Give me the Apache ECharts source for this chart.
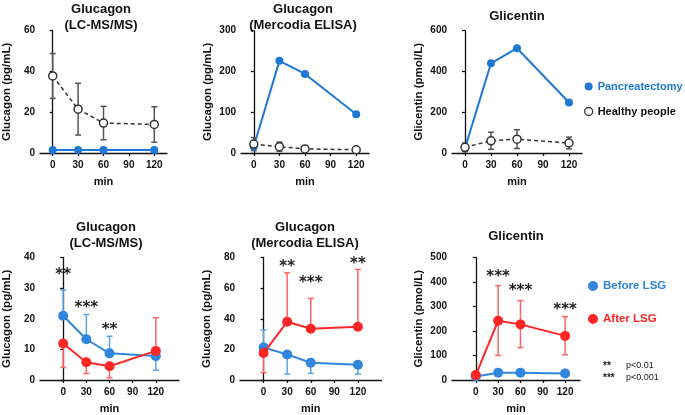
<!DOCTYPE html>
<html><head><meta charset="utf-8">
<script src="https://cdn.jsdelivr.net/npm/echarts@6/dist/echarts.min.js"></script>
<style>html,body{margin:0;padding:0;background:#fff}#c{width:685px;height:415px}</style>
</head><body><div id="c"></div>
<script>
// ---------- data ----------
const minuteTicks = [0, 30, 60, 90, 120];
const timePoints = [0, 30, 60, 120];

// top row: pancreatectomy vs healthy people (mean, SD)
const lcPanc = [1.5, 1.5, 1.5, 1.5];
const lcHealthy = [37.8, 21.5, 14.7, 14.0];
const lcHealthySD = [11, 12.7, 8.2, 8.7];
const elisaPanc = [16, 226, 194, 95];
const elisaHealthy = [22, 15.5, 10, 8];
const elisaHealthySD = [16, 11.5, 4, 3];
const glicPanc = [24, 440, 514, 248];
const glicHealthy = [28, 60, 68, 49];
const glicHealthySD = [21, 42, 46, 29];

// bottom row: before vs after LSG (mean, one-sided error bars)
const lcBefore = [21, 13.3, 8.7, 7.8];
const lcBeforeUp = [8.4, 8.1, 5.6, 0];
const lcBeforeDown = [0, 0, 0, 4.6];
const lcAfter = [11.9, 5.8, 4.5, 9.5];
const lcAfterUp = [0, 0, 0, 10.8];
const lcAfterDown = [7.8, 3.7, 3.8, 0];

const elBefore = [21.3, 16.7, 11.3, 10];
const elBeforeUp = [11.3, 0, 0, 0];
const elBeforeDown = [0, 12.8, 7, 6.1];
const elAfter = [17.6, 38, 33.5, 34.8];
const elAfterUp = [0, 32, 19.8, 37.4];
const elAfterDown = [12.8, 0, 0, 0];

const glBefore = [14, 30, 30, 27];
const glBeforeUp = [0, 0, 0, 0];
const glBeforeDown = [0, 0, 0, 0];
const glAfter = [20, 242, 227, 180];
const glAfterUp = [0, 143, 97, 79];
const glAfterDown = [0, 142, 95, 77];

// significance marks
const lcSigX = [0, 30, 60], lcSigY = [34.2, 23.5, 16.3], lcSigText = ['**', '***', '**'];
const elSigX = [30, 60, 120], elSigY = [73.5, 63.5, 76], elSigText = ['**', '***', '**'];
const glSigX = [30, 60, 120], glSigY = [421, 364, 286], glSigText = ['***', '***', '***'];

// ---------- styling ----------
const BLUE = '#1f78d4', BLUE2 = '#2f86dc', BLUE_ERR = '#5aa5e8';
const RED = '#ff2626', RED_ERR = '#ff6464';
const DARK = '#333333', AX = '#111111';
const FONT = 'Liberation Sans, Arial, sans-serif';

const grids = [
  {left: 39, top: 30.7, width: 128, height: 122.3},
  {left: 241, top: 30.7, width: 128, height: 122.3},
  {left: 452, top: 30.7, width: 130, height: 122.3},
  {left: 39, top: 257.5, width: 140, height: 123.2},
  {left: 240, top: 257.5, width: 141.5, height: 123.2},
  {left: 452, top: 257.5, width: 128, height: 123.2}
];
const xRanges = [[-15, 135], [-15, 135], [-15, 135], [-30, 150], [-30, 150], [-32, 140]];
const yMax = [60, 300, 600, 40, 80, 500];
const yInt = [20, 100, 200, 10, 20, 100];
const yNames = ['Glucagon (pg/mL)', 'Glucagon (pg/mL)', 'Glicentin (pmol/L)',
                'Glucagon (pg/mL)', 'Glucagon (pg/mL)', 'Glicentin (pmol/L)'];

const xAxes = grids.map((g, i) => ({
  type: 'value', gridIndex: i, min: xRanges[i][0], max: xRanges[i][1],
  name: 'min', nameLocation: 'middle', nameGap: 23,
  nameTextStyle: {fontSize: 11, fontWeight: 'bold', color: AX, fontFamily: FONT},
  axisLine: {onZero: false, lineStyle: {color: AX, width: 1.3}},
  axisTick: {customValues: minuteTicks, length: 3, lineStyle: {color: AX, width: 1.3}},
  axisLabel: {customValues: minuteTicks, margin: 7, fontSize: 10, fontWeight: 'bold', color: AX, fontFamily: FONT},
  splitLine: {show: false}
}));
const yAxes = grids.map((g, i) => ({
  type: 'value', gridIndex: i, min: 0, max: yMax[i], interval: yInt[i],
  name: yNames[i], nameLocation: 'middle', nameGap: 27, nameRotate: 90,
  nameTextStyle: {fontSize: 11.5, fontWeight: 'bold', color: AX, fontFamily: FONT},
  axisLine: {show: true, lineStyle: {color: AX, width: 1.3}},
  axisTick: {show: true, length: 3, lineStyle: {color: AX, width: 1.3}},
  axisLabel: {margin: 5, fontSize: 10, fontWeight: 'bold', color: AX, fontFamily: FONT},
  splitLine: {show: false}
}));

function pts(vals) { return timePoints.map((t, i) => [t, vals[i]]); }

function lineS(name, gi, vals, color, size, z) {
  return {type: 'line', name, xAxisIndex: gi, yAxisIndex: gi, data: pts(vals), z,
    symbol: 'circle', symbolSize: size, showSymbol: true,
    lineStyle: {color, width: 2}, itemStyle: {color}, emphasis: {disabled: true}};
}
function healthyS(gi, vals, z) {
  return {type: 'line', name: 'Healthy people', xAxisIndex: gi, yAxisIndex: gi, data: pts(vals), z,
    symbol: 'circle', symbolSize: 8,
    lineStyle: {color: DARK, width: 1.5, type: [4, 3]},
    itemStyle: {color: '#ffffff', borderColor: DARK, borderWidth: 1.5}, emphasis: {disabled: true}};
}
function errS(gi, vals, up, down, color, z) {
  return {type: 'custom', xAxisIndex: gi, yAxisIndex: gi, z, silent: true,
    data: timePoints.map((t, i) => [t, vals[i] - down[i], vals[i] + up[i], vals[i]]),
    encode: {x: 0, y: [1, 2]},
    renderItem(params, api) {
      const x = api.value(0), lo = api.value(1), hi = api.value(2), v = api.value(3);
      const a = api.coord([x, lo]), b = api.coord([x, hi]);
      const st = {stroke: color, lineWidth: 1.5};
      const ch = [{type: 'line', shape: {x1: a[0], y1: a[1], x2: b[0], y2: b[1]}, style: st}];
      if (hi > v) ch.push({type: 'line', shape: {x1: b[0] - 3, y1: b[1], x2: b[0] + 3, y2: b[1]}, style: st});
      if (lo < v) ch.push({type: 'line', shape: {x1: a[0] - 3, y1: a[1], x2: a[0] + 3, y2: a[1]}, style: st});
      return {type: 'group', children: ch};
    }};
}
function sigS(gi, xs, ys, texts) {
  return {type: 'custom', xAxisIndex: gi, yAxisIndex: gi, z: 10, silent: true,
    data: xs.map((x, i) => [x, ys[i]]),
    renderItem(params, api) {
      const p = api.coord([api.value(0), api.value(1)]);
      return {type: 'text', x: p[0], y: p[1], style: {text: texts[params.dataIndex],
        fontSize: 15, fontWeight: 'bold', fontFamily: 'DejaVu Sans', fill: '#222',
        align: 'center', verticalAlign: 'middle'}};
    }};
}

const series = [
  // top-left
  errS(0, lcHealthy, lcHealthySD, lcHealthySD, '#555', 1),
  lineS('Pancreatectomy', 0, lcPanc, BLUE, 8, 2),
  healthyS(0, lcHealthy, 3),
  // top-middle
  errS(1, elisaHealthy, elisaHealthySD, elisaHealthySD, '#555', 1),
  lineS('Pancreatectomy', 1, elisaPanc, BLUE, 8, 2),
  healthyS(1, elisaHealthy, 3),
  // top-right
  errS(2, glicHealthy, glicHealthySD, glicHealthySD, '#555', 1),
  lineS('Pancreatectomy', 2, glicPanc, BLUE, 8, 2),
  healthyS(2, glicHealthy, 3),
  // bottom-left
  errS(3, lcBefore, lcBeforeUp, lcBeforeDown, BLUE_ERR, 1),
  errS(3, lcAfter, lcAfterUp, lcAfterDown, RED_ERR, 1),
  lineS('Before LSG', 3, lcBefore, BLUE2, 10, 2),
  lineS('After LSG', 3, lcAfter, RED, 10, 3),
  sigS(3, lcSigX, lcSigY, lcSigText),
  // bottom-middle
  errS(4, elBefore, elBeforeUp, elBeforeDown, BLUE_ERR, 1),
  errS(4, elAfter, elAfterUp, elAfterDown, RED_ERR, 1),
  lineS('Before LSG', 4, elBefore, BLUE2, 10, 2),
  lineS('After LSG', 4, elAfter, RED, 10, 3),
  sigS(4, elSigX, elSigY, elSigText),
  // bottom-right
  errS(5, glBefore, glBeforeUp, glBeforeDown, BLUE_ERR, 1),
  errS(5, glAfter, glAfterUp, glAfterDown, RED_ERR, 1),
  lineS('Before LSG', 5, glBefore, BLUE2, 10, 2),
  lineS('After LSG', 5, glAfter, RED, 10, 3),
  sigS(5, glSigX, glSigY, glSigText)
];

const titleStyle = {fontSize: 13, fontWeight: 'bold', color: '#111', fontFamily: FONT, lineHeight: 16.5};
const titles = [
  {text: 'Glucagon\n(LC-MS/MS)', left: 101, top: 1},
  {text: 'Glucagon\n(Mercodia ELISA)', left: 303, top: 1},
  {text: 'Glicentin', left: 517, top: 8},
  {text: 'Glucagon\n(LC-MS/MS)', left: 106, top: 219},
  {text: 'Glucagon\n(Mercodia ELISA)', left: 305, top: 219},
  {text: 'Glicentin', left: 516, top: 228}
].map(t => Object.assign({textAlign: 'center', padding: 0, textStyle: titleStyle}, t));

const option = {
  animation: false,
  backgroundColor: '#ffffff',
  title: titles,
  grid: grids,
  xAxis: xAxes,
  yAxis: yAxes,
  legend: [
    {orient: 'vertical', left: 584, top: 81, itemWidth: 8, itemHeight: 8, itemGap: 14, padding: 0,
     selectedMode: false, icon: 'circle',
     textStyle: {fontSize: 11, fontWeight: 'bold', fontFamily: FONT},
     data: [
       {name: 'Pancreatectomy', itemStyle: {color: BLUE}, textStyle: {color: BLUE}},
       {name: 'Healthy people', itemStyle: {color: '#fff', borderColor: DARK, borderWidth: 1.3}, textStyle: {color: '#111'}}
     ]},
    {orient: 'vertical', left: 588, top: 280, itemWidth: 10, itemHeight: 10, itemGap: 21, padding: 0,
     selectedMode: false, icon: 'circle',
     textStyle: {fontSize: 11.5, fontWeight: 'bold', fontFamily: FONT},
     data: [
       {name: 'Before LSG', itemStyle: {color: BLUE2}, textStyle: {color: BLUE2}},
       {name: 'After LSG', itemStyle: {color: RED}, textStyle: {color: RED}}
     ]}
  ],
  graphic: [
    {type: 'text', left: 603, top: 361, style: {text: '**', fontSize: 10, fontWeight: 'bold', fontFamily: FONT, fill: '#222'}},
    {type: 'text', left: 626, top: 361, style: {text: 'p<0.01', fontSize: 9, fontFamily: FONT, fill: '#222'}},
    {type: 'text', left: 603, top: 373, style: {text: '***', fontSize: 10, fontWeight: 'bold', fontFamily: FONT, fill: '#222'}},
    {type: 'text', left: 626, top: 373, style: {text: 'p<0.001', fontSize: 9, fontFamily: FONT, fill: '#222'}}
  ],
  series
};
const chart = echarts.init(document.getElementById('c'), null, {renderer: 'canvas'});
chart.setOption(option);
</script>
</body></html>
